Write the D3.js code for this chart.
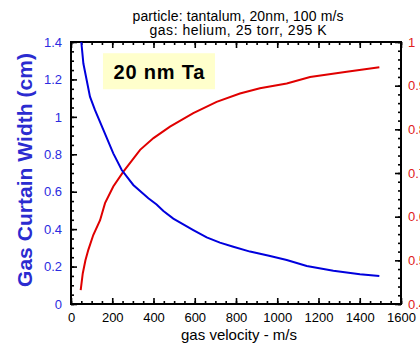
<!DOCTYPE html>
<html>
<head>
<meta charset="utf-8">
<script src="https://cdn.jsdelivr.net/npm/d3@7"></script>
<style>
  body { margin: 0; background: #fff; }
  svg { display: block; font-family: "Liberation Sans", Arial, sans-serif; }
</style>
</head>
<body>
<div id="chart"></div>
<script>
// gas curtain width (left axis) vs gas velocity
var widthVel = [50, 60, 92, 116, 157, 205, 246, 302, 375, 415, 448, 496, 593, 658, 722, 787, 868, 960, 1046, 1143, 1272, 1401, 1495];
var widthCm  = [1.40, 1.285, 1.108, 1.037, 0.93, 0.805, 0.716, 0.636, 0.565, 0.532, 0.497, 0.456, 0.395, 0.356, 0.328, 0.306, 0.28, 0.258, 0.235, 0.203, 0.178, 0.159, 0.15];

// red series (right axis)
var effVel = [47, 57, 70, 84, 108, 141, 165, 205, 254, 335, 400, 480, 593, 706, 819, 916, 1046, 1159, 1337, 1495];
var effVal = [0.432, 0.470, 0.500, 0.524, 0.558, 0.592, 0.631, 0.669, 0.703, 0.753, 0.780, 0.806, 0.837, 0.863, 0.882, 0.894, 0.905, 0.920, 0.932, 0.942];

var xTicks = [0, 200, 400, 600, 800, 1000, 1200, 1400, 1600];
var leftTicks = [0, 0.2, 0.4, 0.6, 0.8, 1, 1.2, 1.4];
var rightTicks = [0.4, 0.5, 0.6, 0.7, 0.8, 0.9, 1];

var titleLines = ["particle: tantalum, 20nm, 100 m/s", "gas: helium, 25 torr, 295 K"];
var titleWidths = [211, 177];

var W = 420, H = 347;
var margin = {top: 42, right: 19, bottom: 43, left: 71};
var width = W - margin.left - margin.right,
    height = H - margin.top - margin.bottom;

var blue = "#0000dd", blueText = "#2b2be0", red = "#e00000", redText = "#e02020";

var svg = d3.select("#chart").append("svg")
  .attr("width", W).attr("height", H);

var g = svg.append("g")
  .attr("transform", "translate(" + margin.left + "," + margin.top + ")");

var x = d3.scaleLinear().domain([0, 1600]).range([0, width]);
var yL = d3.scaleLinear().domain([0, 1.4]).range([height, 0]);
var yR = d3.scaleLinear().domain([0.4, 1]).range([height, 0]);

// minor ticks
function minor(lo, hi, step) {
  var out = [];
  for (var i = 0; lo + i * step <= hi + 1e-9; i++) out.push(+(lo + i * step).toFixed(4));
  return out;
}

function styleAxis(sel) {
  sel.select(".domain").remove();
  sel.selectAll("line").attr("stroke", "#000").attr("stroke-width", 1.6);
}

// bottom axis, ticks inward
g.append("g").attr("transform", "translate(0," + height + ")")
  .call(d3.axisBottom(x).tickValues(minor(0, 1600, 50)).tickSize(-3).tickFormat(""))
  .call(styleAxis);
var xb = g.append("g").attr("transform", "translate(0," + height + ")")
  .call(d3.axisBottom(x).tickValues(xTicks).tickSize(-6).tickPadding(9).tickFormat(d3.format("d")))
  .call(styleAxis);
xb.selectAll("text").attr("font-size", 13).attr("fill", "#000");

// top axis
g.append("g")
  .call(d3.axisTop(x).tickValues(minor(0, 1600, 50)).tickSize(-3).tickFormat(""))
  .call(styleAxis);
g.append("g")
  .call(d3.axisTop(x).tickValues(xTicks).tickSize(-6).tickFormat(""))
  .call(styleAxis);

// left axis
g.append("g")
  .call(d3.axisLeft(yL).tickValues(minor(0, 1.4, 0.05)).tickSize(-3).tickFormat(""))
  .call(styleAxis);
var yl = g.append("g")
  .call(d3.axisLeft(yL).tickValues(leftTicks).tickSize(-6).tickPadding(9).tickFormat(d3.format("")))
  .call(styleAxis);
yl.selectAll("text").attr("font-size", 13).attr("fill", blueText);

// right axis
g.append("g").attr("transform", "translate(" + width + ",0)")
  .call(d3.axisRight(yR).tickValues(minor(0.4, 1, 0.02)).tickSize(-3).tickFormat(""))
  .call(styleAxis);
var yr = g.append("g").attr("transform", "translate(" + width + ",0)")
  .call(d3.axisRight(yR).tickValues(rightTicks).tickSize(-6).tickPadding(7).tickFormat(d3.format("")))
  .call(styleAxis);
yr.selectAll("text").attr("font-size", 13).attr("fill", redText);

// frame
g.append("rect")
  .attr("width", width).attr("height", height)
  .attr("fill", "none").attr("stroke", "#000").attr("stroke-width", 2);

// label box
g.append("rect")
  .attr("x", x(155)).attr("y", yL(1.34))
  .attr("width", 112).attr("height", 36)
  .attr("fill", "#ffffcc");
g.append("text")
  .attr("x", x(155) + 56).attr("y", yL(1.34) + 26)
  .attr("text-anchor", "middle")
  .attr("font-size", 20).attr("font-weight", "bold")
  .attr("textLength", 91).attr("lengthAdjust", "spacing")
  .text("20 nm Ta");

// lines
var lineL = d3.line().x(function(d) { return x(d[0]); }).y(function(d) { return yL(d[1]); });
var lineR = d3.line().x(function(d) { return x(d[0]); }).y(function(d) { return yR(d[1]); });

g.append("path")
  .datum(d3.zip(effVel, effVal))
  .attr("d", lineR)
  .attr("fill", "none").attr("stroke", red).attr("stroke-width", 2);

g.append("path")
  .datum(d3.zip(widthVel, widthCm))
  .attr("d", lineL)
  .attr("fill", "none").attr("stroke", blue).attr("stroke-width", 2);

// titles
svg.selectAll(".title")
  .data(titleLines)
  .enter().append("text")
  .attr("x", 238)
  .attr("y", function(d, i) { return 20.5 + i * 14.5; })
  .attr("text-anchor", "middle")
  .attr("font-size", 14)
  .attr("textLength", function(d, i) { return titleWidths[i]; })
  .attr("lengthAdjust", "spacing")
  .text(function(d) { return d; });

svg.append("text")
  .attr("x", 239)
  .attr("y", 340)
  .attr("text-anchor", "middle")
  .attr("font-size", 15)
  .attr("textLength", 116).attr("lengthAdjust", "spacing")
  .text("gas velocity - m/s");

svg.append("text")
  .attr("transform", "translate(32,170) rotate(-90)")
  .attr("text-anchor", "middle")
  .attr("font-size", 21).attr("font-weight", "bold")
  .attr("textLength", 234).attr("lengthAdjust", "spacing")
  .attr("fill", "#2b2bd0")
  .text("Gas Curtain Width (cm)");
</script>
</body>
</html>
